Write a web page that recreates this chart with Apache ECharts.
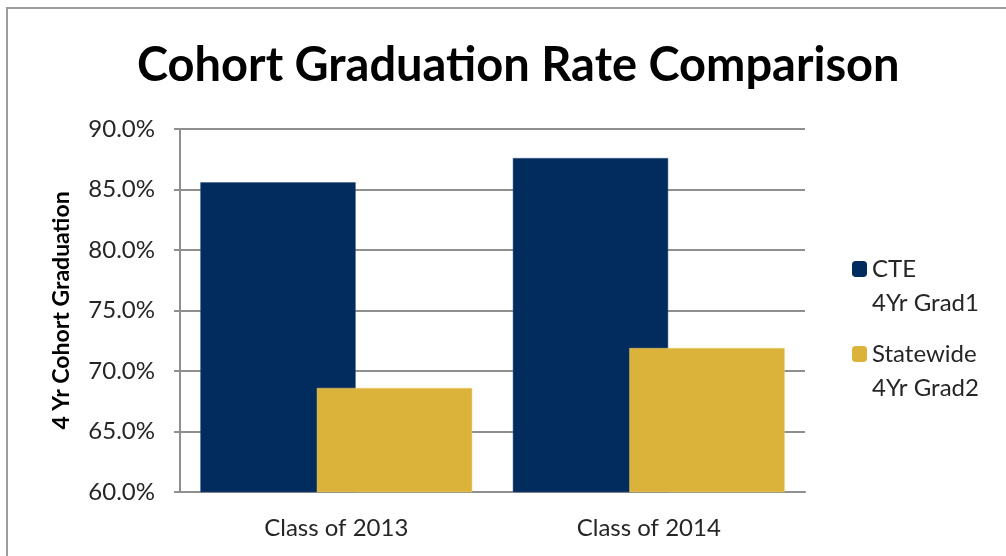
<!DOCTYPE html>
<html>
<head>
<meta charset="utf-8">
<script src="https://cdn.jsdelivr.net/npm/echarts@6/dist/echarts.min.js"></script>
<style>
  html, body { margin: 0; padding: 0; background: #fff; }
  #chart { width: 1006px; height: 556px; }
</style>
</head>
<body>
<div id="chart"></div>
<script>
var myChart = echarts.init(document.getElementById('chart'));

var categories = ['Class of 2013', 'Class of 2014'];
var cteRates = [85.6, 87.6];        // CTE 4Yr Grad1
var statewideRates = [68.6, 71.9];  // Statewide 4Yr Grad2
var seriesNames = ['CTE\n4Yr Grad1', 'Statewide\n4Yr Grad2'];
var yTicks = { min: 60, max: 90, step: 5 };

var fontName = 'Lato';
var textColor = '#262626';
var gridColor = '#8f8f8f';

var option = {
    backgroundColor: '#fff',
    animation: false,
    title: {
        text: 'Cohort Graduation Rate Comparison',
        left: 132,
        top: 37,
        textStyle: {
            fontFamily: fontName,
            fontWeight: 'bold',
            fontSize: 47,
            color: '#000'
        }
    },
    graphic: [{
        // outer chart frame
        type: 'rect',
        x: 7,
        y: 8,
        shape: { x: 0, y: 0, width: 1200, height: 700 },
        style: { fill: null, stroke: '#9c9c9c', lineWidth: 2 },
        silent: true,
        z: -1
    }],
    legend: {
        orient: 'vertical',
        left: 852,
        top: 218,
        padding: 0,
        itemWidth: 15,
        itemHeight: 16,
        itemGap: -17,
        data: seriesNames,
        itemStyle: { borderWidth: 0 },
        formatter: function (name) {
            // blank first line keeps the marker level with the first text line
            return '\n' + name;
        },
        textStyle: {
            fontFamily: fontName,
            fontSize: 24,
            lineHeight: 34,
            color: textColor
        }
    },
    grid: {
        left: 180,
        right: 201,
        top: 129,
        bottom: 64
    },
    xAxis: {
        type: 'category',
        data: categories,
        axisLine: { lineStyle: { color: gridColor, width: 2 } },
        axisTick: { show: false },
        axisLabel: {
            margin: 24,
            fontFamily: fontName,
            fontSize: 24,
            color: textColor
        }
    },
    yAxis: {
        type: 'value',
        min: yTicks.min,
        max: yTicks.max,
        interval: yTicks.step,
        name: '4 Yr Cohort Graduation',
        nameLocation: 'middle',
        nameGap: 107,
        nameTextStyle: {
            fontFamily: fontName,
            fontWeight: 'bold',
            fontSize: 23,
            color: '#000'
        },
        axisLine: { show: true, lineStyle: { color: gridColor, width: 2 } },
        axisTick: { show: true, length: 6, lineStyle: { color: gridColor, width: 2 } },
        splitLine: { lineStyle: { color: gridColor, width: 2 } },
        axisLabel: {
            margin: 25,
            fontFamily: fontName,
            fontSize: 24,
            color: textColor,
            formatter: function (v) { return v.toFixed(1) + '%'; }
        }
    },
    series: [
        {
            name: seriesNames[0],
            type: 'bar',
            data: cteRates,
            barGap: '-25%',
            barCategoryGap: '13%',
            itemStyle: { color: '#022b5e', borderColor: '#3a5a85', borderWidth: 0.5 }
        },
        {
            name: seriesNames[1],
            type: 'bar',
            data: statewideRates,
            barGap: '-25%',
            barCategoryGap: '13%',
            itemStyle: { color: '#dbb33b', borderColor: '#e8cc70', borderWidth: 0.5 }
        }
    ]
};

myChart.setOption(option);
</script>
</body>
</html>
